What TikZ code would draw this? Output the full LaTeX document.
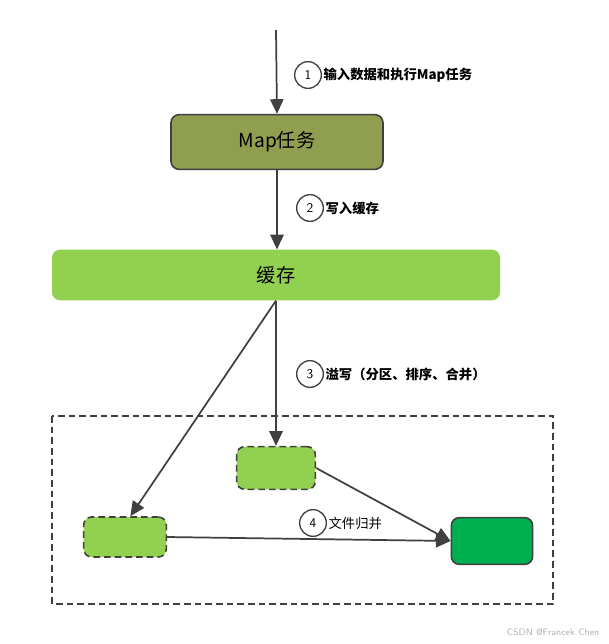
\documentclass[tikz,border=0pt]{standalone}
\usepackage{fontspec}
\setmainfont{Noto Sans CJK SC}
\usetikzlibrary{arrows.meta}
\definecolor{mapolive}{HTML}{8F9F4F}
\definecolor{cachegreen}{HTML}{92D050}
\definecolor{filegreen}{HTML}{00B050}
\definecolor{linegray}{HTML}{404040}
\tikzset{
        box/.style={draw=linegray, line width=1.2pt, rounded corners=6pt, inner sep=0pt},
        spill/.style={box, dashed, dash pattern=on 5pt off 3pt, fill=cachegreen},
        flow/.style={draw=linegray, line width=1.3pt, -{Triangle[length=11pt, width=10pt]}},
        stepno/.style={circle, draw=linegray, line width=1pt, fill=white, minimum size=20pt, inner sep=0pt, font=\sffamily\normalsize},
        steptext/.style={right, font=\normalsize\bfseries, inner sep=1pt},
}
\begin{document}
\begin{tikzpicture}[x=0.75pt, y=-0.75pt]
      \useasboundingbox (0,0) rectangle (609,644);
      % MAP TASK AND CACHE
      \coordinate (input) at (276,30);
      \node[box, fill=mapolive, minimum width=159pt, minimum height=41pt, font=\Large] (map) at (277,142) {Map任务};
      \node[rounded corners=6pt, fill=cachegreen, minimum width=336pt, minimum height=38pt, inner sep=0pt, font=\Large] (cache) at (276,275) {缓存};

      % SPILL FILES
      \draw[linegray, line width=1pt, dash pattern=on 5pt off 3pt] (52,416) rectangle (553,604);
      \node[spill, minimum width=59pt, minimum height=32pt] (spillA) at (276,468) {};
      \node[spill, minimum width=62pt, minimum height=30pt] (spillB) at (125,537) {};
      \node[box, fill=filegreen, minimum width=61pt, minimum height=35pt] (merged) at (492,541) {};

      % WIRING
      \draw[flow] (input) -- (map.north);
      \draw[flow] (map.south) -- (map.south |- cache.north);
      \draw[flow] (cache.south -| spillA.north) -- (spillA.north);
      \draw[flow] (cache.south -| spillA.north) -- ([xshift=4pt]spillB.north);
      \draw[flow] (spillA.east) -- (merged.west);
      \draw[flow] (spillB.east) -- (merged.west);

      % step labels
      \node[stepno] (s1) at (308,75) {1};
      \node[steptext] at (s1.east) {输入数据和执行Map任务};
      \node[stepno] (s2) at (310,208) {2};
      \node[steptext] at (s2.east) {写入缓存};
      \node[stepno] (s3) at (310,374) {3};
      \node[steptext] at (s3.east) {溢写（分区、排序、合并）};
      \node[stepno] (s4) at (313,523) {4};
      \node[steptext, font=\normalsize] at (s4.east) {文件归并};

      \node[anchor=south east, text=gray!60, font=\sffamily\scriptsize] (mark) at (604,640) {CSDN @Francek Chen};
\end{tikzpicture}
\end{document}
